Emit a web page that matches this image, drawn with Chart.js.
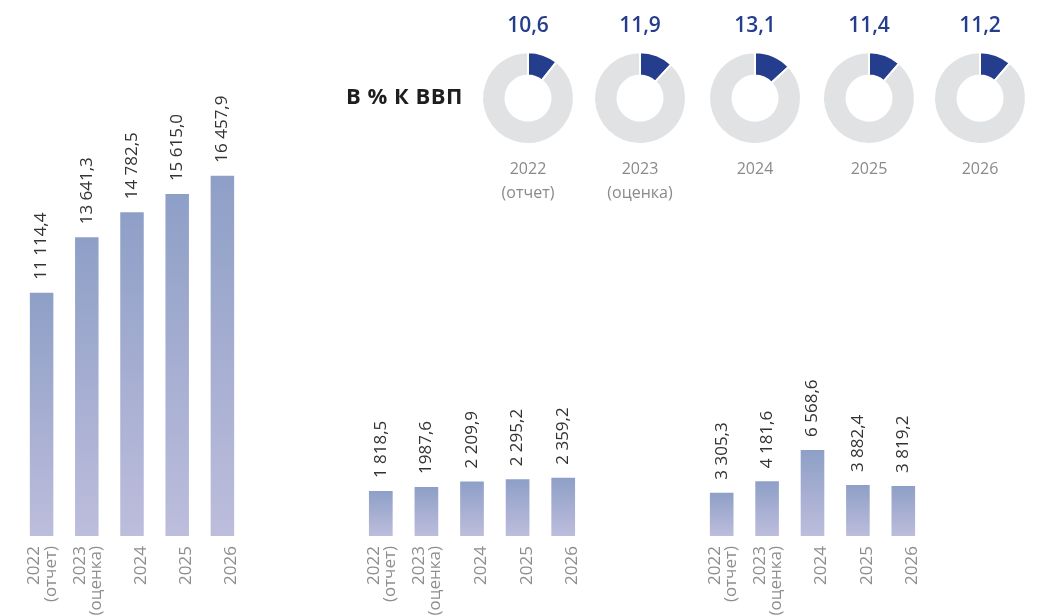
<!DOCTYPE html>
<html lang="ru">
<head>
<meta charset="utf-8">
<title>В % к ВВП</title>
<script src="https://cdn.jsdelivr.net/npm/chart.js@4.4.1/dist/chart.umd.min.js"></script>
<style>
  html, body { margin: 0; padding: 0; background: #fff; }
  body { width: 1055px; height: 616px; position: relative; overflow: hidden; font-family: "Open Sans", sans-serif; }
  canvas { position: absolute; top: 0; }
  #gdpTitle { position: absolute; left: 346px; top: 80px; font-weight: 700; font-size: 22px; line-height: 30px; color: #1e1e1e; letter-spacing: 0.5px; white-space: nowrap; }
</style>
</head>
<body>
<canvas id="barLeft" width="226" height="616" style="left:19px"></canvas>
<canvas id="barMid" width="228" height="616" style="left:358px"></canvas>
<canvas id="barRight" width="227" height="616" style="left:699px"></canvas>

<div id="gdpTitle">В % К ВВП</div>
<canvas id="pie0" width="112" height="208" style="left:472px"></canvas>
<canvas id="pie1" width="112" height="208" style="left:584px"></canvas>
<canvas id="pie2" width="112" height="208" style="left:699px"></canvas>
<canvas id="pie3" width="112" height="208" style="left:813px"></canvas>
<canvas id="pie4" width="112" height="208" style="left:924px"></canvas>

<script>
// Data
const years = [['2022', '(отчет)'], ['2023', '(оценка)'], ['', '2024'], ['', '2025'], ['', '2026']];
const gdpYears = [['2022', '(отчет)'], ['2023', '(оценка)'], ['2024', ''], ['2025', ''], ['2026', '']];

const leftValues = [11114.4, 13641.3, 14782.5, 15615.0, 16457.9];
const leftLabels = ['11 114,4', '13 641,3', '14 782,5', '15 615,0', '16 457,9'];

const midValues = [1818.5, 1987.6, 2209.9, 2295.2, 2359.2];
const midLabels = ['1 818,5', '1987,6', '2 209,9', '2 295,2', '2 359,2'];

const rightValues = [3305.3, 4181.6, 6568.6, 3882.4, 3819.2];
const rightLabels = ['3 305,3', '4 181,6', '6 568,6', '3 882,4', '3 819,2'];

const gdpShare = [10.6, 11.9, 13.1, 11.4, 11.2];
const gdpLabels = ['10,6', '11,9', '13,1', '11,4', '11,2'];

const BAR_TOP = 'rgb(142,159,199)';
const BAR_BOTTOM = 'rgb(189,189,220)';
const BLUE = '#243d8c';
const GREY = '#e1e2e4';

// Rotated value labels above each bar
const valueLabelPlugin = {
  id: 'valueLabels',
  afterDatasetsDraw(chart, args, opts) {
    const ctx = chart.ctx;
    const meta = chart.getDatasetMeta(0);
    ctx.save();
    ctx.font = '17px "Open Sans", sans-serif';
    ctx.fillStyle = '#333333';
    ctx.textAlign = 'left';
    ctx.textBaseline = 'middle';
    meta.data.forEach((bar, i) => {
      ctx.save();
      ctx.translate(bar.x, bar.y - 13);
      ctx.rotate(-Math.PI / 2);
      ctx.fillText(opts.labels[i], 0, 0);
      ctx.restore();
    });
    ctx.restore();
  }
};

// Each bar gets its own vertical gradient
function barGradient(c) {
  const y = c.chart.scales.y;
  if (!y || c.raw == null) return BAR_TOP;
  const top = y.getPixelForValue(c.raw);
  const base = y.getPixelForValue(0);
  if (!isFinite(top) || !isFinite(base) || top === base) return BAR_TOP;
  const g = c.chart.ctx.createLinearGradient(0, top, 0, base);
  g.addColorStop(0, BAR_TOP);
  g.addColorStop(1, BAR_BOTTOM);
  return g;
}

function makeBars(id, values, labels, yMax) {
  new Chart(document.getElementById(id), {
    type: 'bar',
    data: {
      labels: years,
      datasets: [{
        data: values,
        backgroundColor: barGradient,
        borderWidth: 0,
        categoryPercentage: 1,
        barPercentage: 0.52
      }]
    },
    options: {
      responsive: false,
      animation: false,
      layout: { padding: 0 },
      plugins: {
        legend: { display: false },
        tooltip: { enabled: false },
        valueLabels: { labels: labels }
      },
      scales: {
        x: {
          grid: { display: false, drawTicks: false },
          border: { display: false },
          afterFit: s => { s.height = 80; s.paddingLeft = 0; s.paddingRight = 0; },
          ticks: {
            autoSkip: false,
            minRotation: 90,
            maxRotation: 90,
            padding: 10,
            labelOffset: c => (c.index < 2 ? 1 : -7),
            color: '#8e8e8e',
            font: { family: '"Open Sans", sans-serif', size: 17, lineHeight: 0.95 }
          }
        },
        y: { display: false, min: 0, max: yMax }
      }
    },
    plugins: [valueLabelPlugin]
  });
}

makeBars('barLeft', leftValues, leftLabels, 24480);
makeBars('barMid', midValues, midLabels, 21700);
makeBars('barRight', rightValues, rightLabels, 40900);

// Doughnuts: share of GDP
gdpShare.forEach((v, i) => {
  new Chart(document.getElementById('pie' + i), {
    type: 'doughnut',
    data: {
      datasets: [{
        data: [v, 100 - v],
        backgroundColor: [BLUE, GREY],
        borderColor: '#ffffff',
        borderWidth: 2
      }]
    },
    options: {
      responsive: false,
      animation: false,
      cutout: '49%',
      layout: { padding: 0 },
      plugins: {
        legend: { display: false },
        tooltip: { enabled: false },
        title: {
          display: true,
          text: gdpLabels[i],
          color: BLUE,
          font: { family: '"Open Sans", sans-serif', size: 21, weight: '600', lineHeight: 1.2 },
          padding: { top: 13, bottom: 13 }
        },
        subtitle: {
          display: true,
          position: 'bottom',
          text: gdpYears[i],
          color: '#8a8a8a',
          font: { family: '"Open Sans", sans-serif', size: 16, lineHeight: 1.5 },
          padding: { top: 12, bottom: 3 }
        }
      }
    }
  });
});
</script>
</body>
</html>
